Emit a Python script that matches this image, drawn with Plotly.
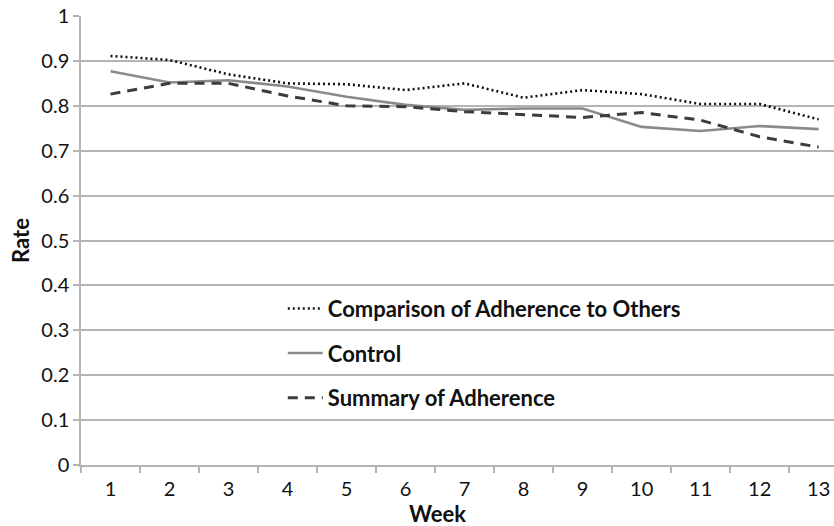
import plotly.graph_objects as go

weeks = list(range(1, 14))
week_labels = [str(w) for w in weeks]
comparison = [0.911, 0.902, 0.870, 0.850, 0.848, 0.835, 0.850, 0.818, 0.835, 0.826, 0.804, 0.804, 0.770]
control = [0.877, 0.852, 0.857, 0.843, 0.820, 0.802, 0.791, 0.794, 0.794, 0.753, 0.744, 0.755, 0.748]
summary = [0.826, 0.850, 0.850, 0.822, 0.800, 0.798, 0.787, 0.780, 0.774, 0.785, 0.768, 0.731, 0.708]
y_ticks = [0, 0.1, 0.2, 0.3, 0.4, 0.5, 0.6, 0.7, 0.8, 0.9, 1]
y_tick_labels = ["0", "0.1", "0.2", "0.3", "0.4", "0.5", "0.6", "0.7", "0.8", "0.9", "1"]

FONT = "Lato, 'Open Sans', sans-serif"
GRID = "#b4b4b4"

fig = go.Figure()
fig.add_trace(go.Scatter(x=weeks, y=comparison, mode="lines", name="Comparison of Adherence to Others",
                         legendgroup="a",
                         line=dict(color="#111111", width=2.6, dash="2px,3px")))
fig.add_trace(go.Scatter(x=weeks, y=control, mode="lines", name="Control",
                         legendgroup="b",
                         line=dict(color="#8a8a8a", width=2.6)))
fig.add_trace(go.Scatter(x=weeks, y=summary, mode="lines", name="Summary of Adherence",
                         legendgroup="c",
                         line=dict(color="#3c3c3c", width=3, dash="10px,7px")))

fig.update_layout(
    width=834, height=526,
    margin=dict(l=81, r=0, t=16, b=61),
    paper_bgcolor="white", plot_bgcolor="white",
    font=dict(family=FONT, size=20, color="#111111"),
    showlegend=True,
    legend=dict(x=0.268, y=0.395, xanchor="left", yanchor="top",
                bgcolor="rgba(255,255,255,0)",
                font=dict(family=FONT, size=22, color="#111111", weight="bold"),
                tracegroupgap=13, itemwidth=35),
    xaxis=dict(range=[0.5, 13.26], tickmode="array", tickvals=weeks, ticktext=week_labels,
               ticks="", showgrid=False, showline=True, linecolor=GRID, linewidth=1.5,
               zeroline=False, automargin=False, ticklabelstandoff=5,
               minor=dict(tickmode="linear", tick0=0.5, dtick=1, ticks="outside",
                          ticklen=6, tickcolor=GRID, tickwidth=1.5, showgrid=False),
               tickfont=dict(family=FONT, size=20, color="#111111")),
    yaxis=dict(range=[0, 1], tickmode="array", tickvals=y_ticks, ticktext=y_tick_labels,
               ticks="outside", ticklen=6, tickcolor=GRID, tickwidth=1.5,
               showgrid=True, gridcolor=GRID, gridwidth=1.5,
               showline=True, linecolor=GRID, linewidth=1.5, zeroline=False, automargin=False,
               tickfont=dict(family=FONT, size=20, color="#111111"),
               title=dict(text="Rate", font=dict(family=FONT, size=22, weight="bold"), standoff=6)),
    annotations=[dict(text="<b>Week</b>", xref="paper", yref="paper", x=0.4728, y=-0.107,
                      xanchor="center", yanchor="middle", showarrow=False,
                      font=dict(family=FONT, size=22, color="#111111"))],
)

fig.write_html("out.html", config={"displayModeBar": False},
               post_script="document.body.style.margin='0';document.body.style.overflow='hidden';")
